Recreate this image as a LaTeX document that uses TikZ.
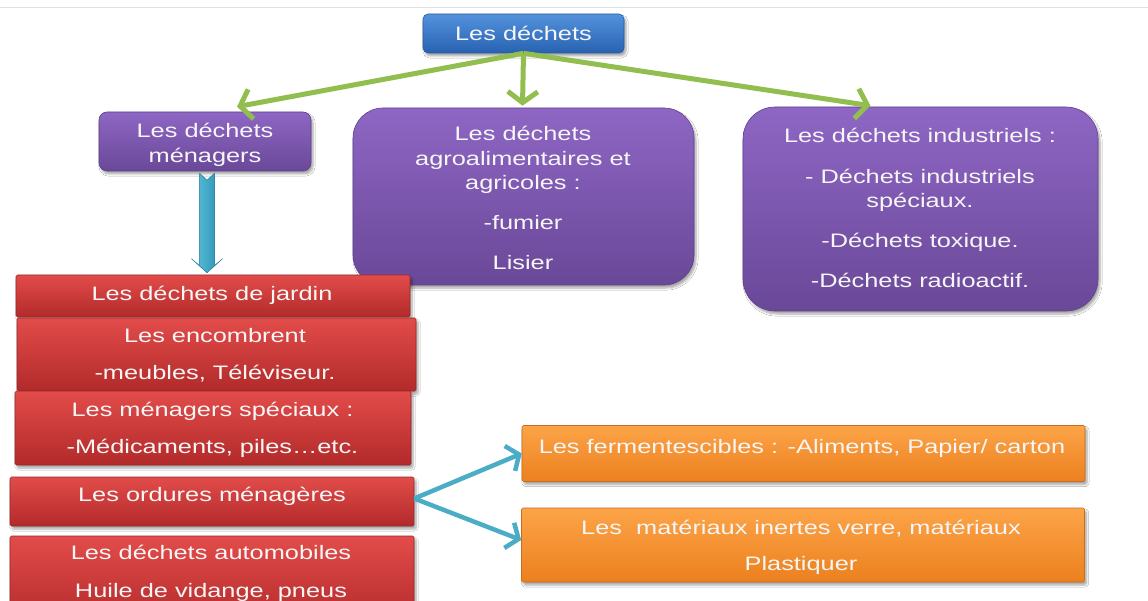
\documentclass[tikz,border=0pt]{standalone}
\usepackage{fontspec}
\setmainfont[FakeStretch=1.3]{Liberation Sans}
\usetikzlibrary{arrows.meta,shadows.blur}
\definecolor{bluetop}{RGB}{84,146,220}
\definecolor{bluebot}{RGB}{40,98,178}
\definecolor{blueedge}{RGB}{40,90,160}
\definecolor{purptop}{RGB}{142,102,196}
\definecolor{purpbot}{RGB}{106,72,152}
\definecolor{purpedge}{RGB}{95,65,140}
\definecolor{redtop}{RGB}{226,76,74}
\definecolor{redbot}{RGB}{178,42,42}
\definecolor{rededge}{RGB}{150,40,40}
\definecolor{orgtop}{RGB}{252,164,72}
\definecolor{orgbot}{RGB}{236,128,30}
\definecolor{orgedge}{RGB}{200,110,30}
\definecolor{arrowgreen}{RGB}{146,190,80}
\definecolor{arrowcyan}{RGB}{75,172,198}
\definecolor{cyandark}{RGB}{40,140,175}
\definecolor{cyanmid}{RGB}{140,222,242}
\definecolor{cyanleft}{RGB}{95,195,222}
\definecolor{txtwhite}{RGB}{246,246,246}
\tikzset{
  box/.style={inner sep=0pt, line width=0.6pt,
    blur shadow={shadow xshift=2pt, shadow yshift=-3pt, shadow opacity=35, shadow blur steps=6}},
  blueb/.style={box, top color=bluetop, bottom color=bluebot, draw=blueedge, rounded corners=5pt},
  purpb/.style={box, top color=purptop, bottom color=purpbot, draw=purpedge},
  redb/.style={box, top color=redtop, bottom color=redbot, draw=rededge, rounded corners=1.5pt},
  orgb/.style={box, top color=orgtop, bottom color=orgbot, draw=orgedge, rounded corners=1.5pt},
  txt/.style={text=txtwhite, font=\fontsize{19.5}{24.5}\selectfont, align=center, inner sep=0pt},
  garrow/.style={draw=arrowgreen, line width=5pt, -{Straight Barb[length=11pt,width=30pt]}},
  carrow/.style={draw=arrowcyan, line width=4.5pt, -{Straight Barb[length=10pt,width=27pt]}},
  bigarrow/.style={left color=cyanleft, middle color=cyanmid, right color=cyandark, draw=cyandark, line width=0.5pt, line join=round},
}
\begin{document}
\begin{tikzpicture}[x=1pt,y=-1pt]
\useasboundingbox (0,0) rectangle (1148,601);
\clip (0,0) rectangle (1148,601);
\fill[white] (0,0) rectangle (1148,601);
\draw[black!12, line width=1pt] (0,8) -- (1148,8);

% boxes
\node[blueb, minimum width=201pt, minimum height=39pt] (root) at (523.5,33.5) {};
\node[purpb, rounded corners=8pt, minimum width=212pt, minimum height=59pt] (men) at (205,141.5) {};
\node[purpb, rounded corners=30pt, minimum width=341pt, minimum height=177pt] (agro) at (523.5,196.5) {};
\node[purpb, rounded corners=32pt, minimum width=355pt, minimum height=204pt] (ind) at (920.5,209) {};

\node[redb, minimum width=394pt, minimum height=42pt] (jard) at (213,296) {};
\node[redb, minimum width=399pt, minimum height=73pt] (enc) at (216.5,354.5) {};
\node[redb, minimum width=396pt, minimum height=74pt] (spec) at (213,428) {};
\node[redb, minimum width=404pt, minimum height=49pt] (ord) at (212,501.5) {};
\node[redb, minimum width=404pt, minimum height=90pt] (auto) at (212,581) {};

\node[orgb, minimum width=563pt, minimum height=56pt] (ferm) at (803.5,453.5) {};
\node[orgb, minimum width=563pt, minimum height=74pt] (mat) at (803,545) {};

% texts
\node[txt] (troot) at (523.5,33) {Les déchets};
\node[txt] (tmen) at (205,145) {Les déchets\\ménagers};
\node[txt] (tagro) at (523,198) {Les déchets\\agroalimentaires et\\agricoles :\\[15.5pt]-fumier\\[15.5pt]Lisier};
\node[txt] (tind) at (920,208) {Les déchets industriels :\\[16pt]- Déchets industriels\\spéciaux.\\[15.5pt]-Déchets toxique.\\[15.5pt]-Déchets radioactif.};
\node[txt] (tjard) at (212,295) {Les déchets de jardin};
\node[txt] (tenc) at (215,355.5) {Les encombrent\\[12.5pt]-meubles, Téléviseur.};
\node[txt] (tspec) at (212.5,429.5) {Les ménagers spéciaux :\\[12.5pt]-Médicaments, piles…etc.};
\node[txt] (tord) at (212,496) {Les ordures ménagères};
\node[txt] (tauto) at (211,573.5) {Les déchets automobiles\\[13pt]Huile de vidange, pneus};
\node[txt] (tferm) at (802,448) {Les fermentescibles : -Aliments, Papier/ carton};
\node[txt] (tmat) at (801,547) {Les\ \ matériaux inertes verre, matériaux\\[11.5pt]Plastiquer};

% green connectors
\draw[garrow] (root.south) -- ([xshift=32pt,yshift=5pt]men.north);
\draw[garrow] (root.south) -- ([xshift=-1pt,yshift=2pt]agro.north);
\draw[garrow] (root.south) -- ([xshift=-50pt,yshift=1pt]ind.north);

% cyan down arrow (men -> jard)
\coordinate (ca) at ([xshift=2pt]men.south);
\coordinate (cb) at ([xshift=-6pt]jard.north);
\fill[bigarrow]
  ([shift={(-7.5,2)}]ca) -- ([shift={(0,9)}]ca) -- ([shift={(7.5,2)}]ca)
  -- ([shift={(7.5,-9)}]cb) -- ([shift={(15.5,-16)}]cb) -- ([shift={(0,-2)}]cb)
  -- ([shift={(-15.5,-16)}]cb) -- ([shift={(-7.5,-9)}]cb) -- cycle;

% cyan connectors
\draw[carrow] ([yshift=3pt]ord.east) -- (ferm.west);
\draw[carrow] ([yshift=3pt]ord.east) -- ([yshift=5pt]mat.west);
\end{tikzpicture}
\end{document}
